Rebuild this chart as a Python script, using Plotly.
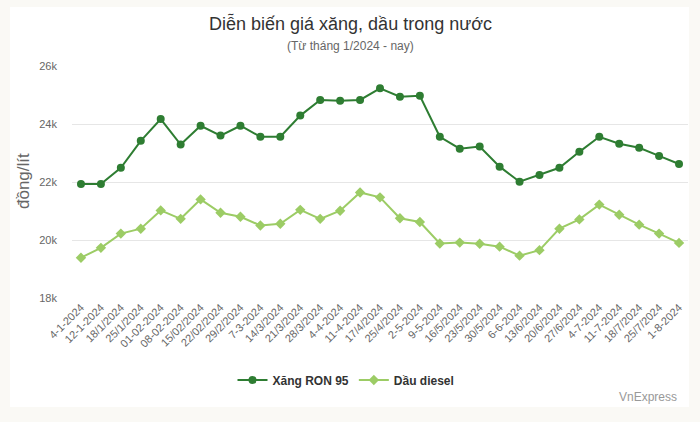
import plotly.graph_objects as go

dates = ["4-1-2024", "12-1-2024", "18/1/2024", "25/1/2024", "01-02-2024", "08-02-2024",
         "15/02/2024", "22/02/2024", "29/2/2024", "7-3-2024", "14/3/2024", "21/3/2024",
         "28/3/2024", "4-4-2024", "11-4-2024", "17/4/2024", "25/4/2024", "2-5-2024",
         "9-5-2024", "16/5/2024", "23/5/2024", "30/5/2024", "6-6-2024", "13/6/2024",
         "20/6/2024", "27/6/2024", "4-7-2024", "11-7-2024", "18/7/2024", "25/7/2024", "1-8-2024"]

ron95 = [21930, 21930, 22490, 23420, 24170, 23290, 23940, 23600, 23940, 23560, 23560,
         24290, 24830, 24800, 24830, 25230, 24940, 24970, 23560, 23150, 23220, 22530,
         22010, 22240, 22490, 23040, 23560, 23320, 23180, 22900, 22620]

diesel = [19390, 19730, 20220, 20390, 21020, 20730, 21400, 20940, 20800, 20500, 20560,
          21040, 20730, 21010, 21640, 21470, 20750, 20620, 19880, 19910, 19870, 19770,
          19460, 19650, 20390, 20710, 21220, 20870, 20530, 20220, 19900]

y_ticks = [18000, 20000, 22000, 24000, 26000]
y_tick_text = ["18k", "20k", "22k", "24k", "26k"]

FONT = "Liberation Sans, Arial, sans-serif"

fig = go.Figure()
fig.add_trace(go.Scatter(
    x=dates, y=ron95, name="Xăng RON 95", mode="lines+markers",
    line=dict(color="#2e7d32", width=2),
    marker=dict(symbol="circle", size=8, color="#2e7d32"),
))
fig.add_trace(go.Scatter(
    x=dates, y=diesel, name="Dầu diesel", mode="lines+markers",
    line=dict(color="#9ccc65", width=2),
    marker=dict(symbol="diamond", size=8, color="#9ccc65"),
))

L, R, T, B = 72, 12, 66, 124
W, H = 700, 422
pw, ph = W - L - R, H - T - B

def px(x):
    return (x - L) / pw

def py(y):
    return (H - B - y) / ph

fig.add_shape(type="rect", xref="paper", yref="paper",
              x0=px(10), x1=px(689), y0=py(407), y1=py(7),
              fillcolor="white", line=dict(width=0), layer="below")

fig.update_layout(
    width=W, height=H,
    margin=dict(l=L, r=R, t=T, b=B),
    paper_bgcolor="#faf9f5",
    plot_bgcolor="white",
    font=dict(family=FONT, color="#666666", size=11),
    showlegend=True,
    legend=dict(orientation="h", x=px(346), xanchor="center", y=py(380), yanchor="middle",
                font=dict(size=12, color="#333333", family=FONT, weight="bold"),
                itemwidth=30, bgcolor="rgba(0,0,0,0)"),
    xaxis=dict(type="category", range=[-0.45, len(dates) - 0.55], tickangle=-45,
               showgrid=False, showline=False, ticks="", tickfont=dict(size=11, color="#666666"),
               zeroline=False),
    yaxis=dict(range=[18000, 26000], tickvals=y_ticks, ticktext=y_tick_text,
               gridcolor="#e6e6e6", gridwidth=1, zeroline=False, showline=False,
               ticks="", ticklabelstandoff=14, tickfont=dict(size=11, color="#666666")),
    annotations=[
        dict(text="Diễn biến giá xăng, dầu trong nước", xref="paper", yref="paper",
             x=px(350), y=py(24), xanchor="center", yanchor="middle", showarrow=False,
             font=dict(size=18, color="#333333", family=FONT)),
        dict(text="(Từ tháng 1/2024 - nay)", xref="paper", yref="paper",
             x=px(350), y=py(46), xanchor="center", yanchor="middle", showarrow=False,
             font=dict(size=12, color="#666666", family=FONT)),
        dict(text="đồng/lít", xref="paper", yref="paper", textangle=-90,
             x=px(23), y=py(181), xanchor="center", yanchor="middle", showarrow=False,
             font=dict(size=17, color="#666666", family=FONT)),
        dict(text="VnExpress", xref="paper", yref="paper",
             x=px(679), y=py(397), xanchor="right", yanchor="middle", showarrow=False,
             font=dict(size=12, color="#999999", family=FONT)),
    ],
)

fig.write_html("out.html")
